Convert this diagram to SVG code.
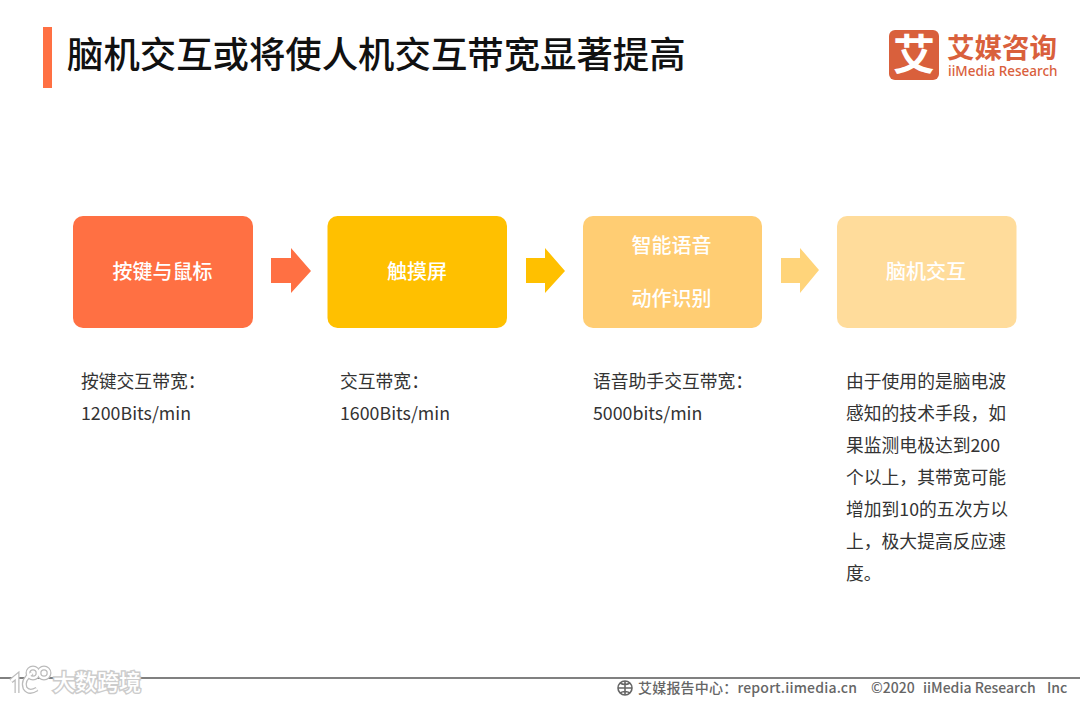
<svg xmlns="http://www.w3.org/2000/svg" width="1080" height="702" viewBox="0 0 1080 702">
<style>
text{font-family:"Noto Sans CJK SC","Noto Sans",sans-serif}
.n{font-size:20px;fill:#fff;text-anchor:middle;font-weight:500}
.b{font-size:17.8px;fill:#333}
.f{font-size:14px;fill:#666;font-weight:500}
</style>
<rect width="1080" height="702" fill="#fff"/>
<rect x="43" y="27" width="9" height="61" fill="#ff7043"/>
<text x="67" y="68" font-size="36.4" font-weight="500" fill="#111">脑机交互或将使人机交互带宽显著提高</text>
<g id="logo">
<rect x="889" y="30" width="50" height="50" rx="6" fill="#d9603c"/>
<text x="914" y="70" font-size="42" font-weight="700" fill="#fff" text-anchor="middle">艾</text>
<text x="947" y="58" font-size="27.500" font-weight="700" fill="#d9603c">艾媒咨询</text>
<text x="948" y="76" font-size="13.500" font-weight="500" fill="#d9603c" style="font-family:'Noto Sans',sans-serif">iiMedia Research</text>
</g>
<g id="connectors">
<path d="M271 258H291V248L311 271L291 293V283H271Z" fill="#ff7043"/>
<path d="M526 258H545V248L565 271L545 293V283H526Z" fill="#ffc000"/>
<path d="M781 258H800V248L819 270L800 293V283H781Z" fill="#ffd47a"/>
</g>
<g id="node1"><rect x="73" y="216" width="180" height="112" rx="10" fill="#ff7043"/><text class="n" x="162.500" y="279">按键与鼠标</text></g>
<g id="node2"><rect x="327.500" y="216" width="179.500" height="112" rx="10" fill="#ffc000"/><text class="n" x="417" y="279">触摸屏</text></g>
<g id="node3"><rect x="583" y="216" width="179" height="112" rx="10" fill="#ffcd73"/><text class="n" x="671.500" y="252.500">智能语音</text><text class="n" x="671.500" y="306">动作识别</text></g>
<g id="node4"><rect x="837" y="216" width="179.500" height="112" rx="10" fill="#ffdc9b"/><text class="n" x="926" y="279">脑机交互</text></g>
<g id="desc1"><text class="b" x="81" y="388">按键交互带宽：</text><text class="b" x="81" y="420">1200Bits/min</text></g>
<g id="desc2"><text class="b" x="340" y="388">交互带宽：</text><text class="b" x="340" y="420">1600Bits/min</text></g>
<g id="desc3"><text class="b" x="593" y="388">语音助手交互带宽：</text><text class="b" x="593" y="420">5000bits/min</text></g>
<g id="desc4">
<text class="b" x="846" y="388">由于使用的是脑电波</text>
<text class="b" x="846" y="420">感知的技术手段，如</text>
<text class="b" x="846" y="452">果监测电极达到200</text>
<text class="b" x="846" y="484">个以上，其带宽可能</text>
<text class="b" x="846" y="516">增加到10的五次方以</text>
<text class="b" x="846" y="548">上，极大提高反应速</text>
<text class="b" x="846" y="580">度。</text>
</g>
<rect x="0" y="677" width="1080" height="2" fill="#808080"/>
<g id="footer">
<g fill="none" stroke="#666" stroke-width="1.6"><circle cx="625" cy="688" r="7"/><path d="M618 688H632M625 681V695M620 683Q625 686 630 683M620 693Q625 690 630 693"/></g>
<text class="f" x="638" y="693" letter-spacing=".2">艾媒报告中心：report.iimedia.cn</text>
<text class="f" x="871" y="693">©2020</text>
<text class="f" x="923" y="693">iiMedia Research</text>
<text class="f" x="1047" y="693">Inc</text>
</g>
<g id="watermark">
<g fill="none" stroke="#bbb" stroke-width="5"><path d="M11 681L17 676V693M32 673Q22 680 25 688Q29 694 37 689"/><circle cx="33" cy="673" r="5"/><circle cx="44" cy="673" r="5"/></g>
<g fill="none" stroke="#fff" stroke-width="2.500"><path d="M11 681L17 676V693M32 673Q22 680 25 688Q29 694 37 689"/><circle cx="33" cy="673" r="5"/><circle cx="44" cy="673" r="5"/></g>
<text x="53" y="690" font-size="22" fill="#fff" stroke="#ccc" stroke-width="3" paint-order="stroke" font-weight="500">大数跨境</text>
</g>
</svg>
